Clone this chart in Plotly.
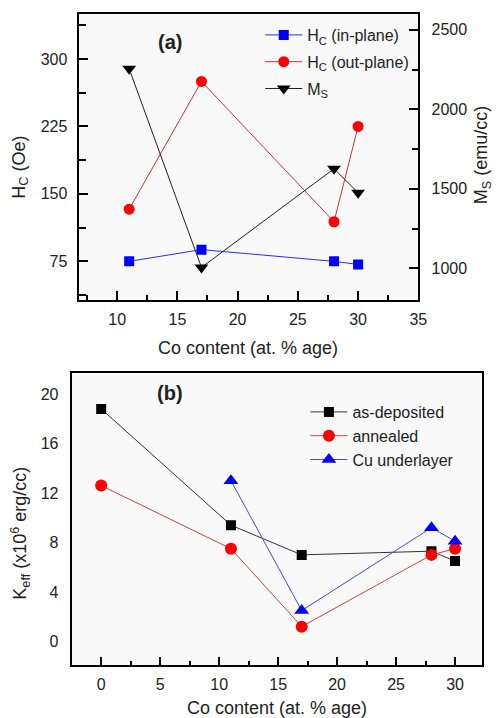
import plotly.graph_objects as go

# ---- data panel (a) ----
co_a = [11, 17, 28, 30]
hc_in = [75, 88, 75, 71.5]
hc_out = [133, 275, 119, 225]
ms = [2255, 1005, 1626, 1475]

# ---- data panel (b) ----
co_b = [0, 11, 17, 28, 30]
keff_dep = [18.8, 9.4, 7.0, 7.3, 6.5]
keff_ann = [12.6, 7.5, 1.2, 7.0, 7.5]
co_cu = [11, 17, 28, 30]
keff_cu = [13.0, 2.5, 9.2, 8.1]

W, H = 502, 718
FONT = "Liberation Sans, Arial, sans-serif"

def px(x):
    return x / W

def py(y):
    return 1 - y / H

fig = go.Figure()

fig.add_trace(go.Scatter(x=co_a, y=hc_in, mode="lines+markers", name="H<sub>C</sub> (in-plane)",
                         line=dict(color="#2b2bff", width=1),
                         marker=dict(symbol="square", size=10, color="#0000ff"),
                         xaxis="x", yaxis="y", legend="legend", legendgroup="a1"))
fig.add_trace(go.Scatter(x=co_a, y=hc_out, mode="lines+markers", name="H<sub>C</sub> (out-plane)",
                         line=dict(color="#d23030", width=1),
                         marker=dict(symbol="circle", size=11, color="#ff0000"),
                         xaxis="x", yaxis="y", legend="legend", legendgroup="a2"))
fig.add_trace(go.Scatter(x=co_a, y=ms, mode="lines+markers", name="M<sub>S</sub>",
                         line=dict(color="#222222", width=1),
                         marker=dict(symbol="triangle-down", size=12, color="#000000"),
                         xaxis="x", yaxis="y2", legend="legend", legendgroup="a3"))

fig.add_trace(go.Scatter(x=co_b, y=keff_dep, mode="lines+markers", name="as-deposited",
                         line=dict(color="#333333", width=1),
                         marker=dict(symbol="square", size=10, color="#000000"),
                         xaxis="x2", yaxis="y3", legend="legend2"))
fig.add_trace(go.Scatter(x=co_b, y=keff_ann, mode="lines+markers", name="annealed",
                         line=dict(color="#d84040", width=1),
                         marker=dict(symbol="circle", size=12, color="#ff0000"),
                         xaxis="x2", yaxis="y3", legend="legend2"))
fig.add_trace(go.Scatter(x=co_cu, y=keff_cu, mode="lines+markers", name="Cu underlayer",
                         line=dict(color="#4a4ad0", width=1),
                         marker=dict(symbol="triangle-up", size=13, color="#0000ff"),
                         xaxis="x2", yaxis="y3", legend="legend2"))

axis_common = dict(showline=True, linecolor="black", linewidth=2, showgrid=False,
                   zeroline=False, tickfont=dict(family=FONT, size=16, color="#222"),
                   tickcolor="black")

fig.update_layout(
    width=W, height=H,
    margin=dict(l=0, r=0, t=0, b=0),
    paper_bgcolor="white",
    plot_bgcolor="#f9f9f9",
    font=dict(family=FONT, size=16, color="#222"),
    xaxis=dict(domain=[px(80), px(426)], range=[6.8, 35], anchor="y",
               tickvals=[10, 15, 20, 25, 30, 35], ticks="inside", ticklen=9, tickwidth=1.5,
               minor=dict(ticks="inside", dtick=2.5, tick0=0, ticklen=5, tickwidth=1.5, tickcolor="black"),
               mirror=True, ticklabelstandoff=4, **axis_common),
    yaxis=dict(domain=[py(300), py(14)], range=[32, 350], anchor="x",
               tickvals=[75, 150, 225, 300], ticks="inside", ticklen=9, tickwidth=1.5,
               minor=dict(ticks="inside", dtick=37.5, tick0=0, ticklen=7, tickwidth=1.5, tickcolor="black"),
               ticklabelstandoff=6, **axis_common),
    yaxis2=dict(range=[800, 2600], overlaying="y", side="right", anchor="x",
                tickvals=[1000, 1500, 2000, 2500], ticks="inside", ticklen=9, tickwidth=1.5,
                minor=dict(ticks="inside", dtick=250, tick0=0, ticklen=6, tickwidth=1.5, tickcolor="black"),
                ticklabelstandoff=8, **axis_common),
    xaxis2=dict(domain=[px(73), px(491)], range=[-2.5, 32.3], anchor="y3",
                tickvals=[0, 5, 10, 15, 20, 25, 30], ticks="inside", ticklen=8, tickwidth=1.5,
                minor=dict(ticks="inside", dtick=2.5, tick0=0, ticklen=4, tickwidth=1.5, tickcolor="black"),
                mirror=True, ticklabelstandoff=4, **axis_common),
    yaxis3=dict(domain=[py(665), py(373)], range=[-1.9, 21.7], anchor="x2",
                tickvals=[0, 4, 8, 12, 16, 20], ticks="", mirror=True,
                ticklabelstandoff=8, **axis_common),
    legend=dict(x=px(265), y=py(18), xanchor="left", yanchor="top", itemwidth=37,
                bgcolor="rgba(0,0,0,0)", borderwidth=0, tracegroupgap=3,
                font=dict(family=FONT, size=16, color="#222")),
    legend2=dict(x=px(311), y=py(395), xanchor="left", yanchor="top", itemwidth=37,
                 bgcolor="rgba(0,0,0,0)", borderwidth=0,
                 font=dict(family=FONT, size=16, color="#222")),
    showlegend=True,
)

annos = [
    dict(text="<b>(a)</b>", x=px(173), y=py(42), font=dict(size=20)),
    dict(text="<b>(b)</b>", x=px(173), y=py(393), font=dict(size=20)),
    dict(text="H<sub>C</sub> (Oe)", x=px(20), y=py(167), textangle=-90, font=dict(size=18)),
    dict(text="M<sub>S</sub> (emu/cc)", x=px(492), y=py(155), textangle=-90, font=dict(size=18)),
    dict(text="Co content (at. % age)", x=px(253), y=py(348), font=dict(size=18)),
    dict(text="K<sub>eff</sub> (x10<sup>6</sup> erg/cc)", x=px(20), y=py(533), textangle=-90, font=dict(size=18)),
    dict(text="Co content (at. % age)", x=px(282), y=py(708), font=dict(size=18)),
]
for a in annos:
    a.update(xref="paper", yref="paper", showarrow=False, xanchor="center", yanchor="middle")
    a["font"] = dict(family=FONT, color="#222", **a["font"])
fig.update_layout(annotations=annos)

fig.write_html("out.html")
